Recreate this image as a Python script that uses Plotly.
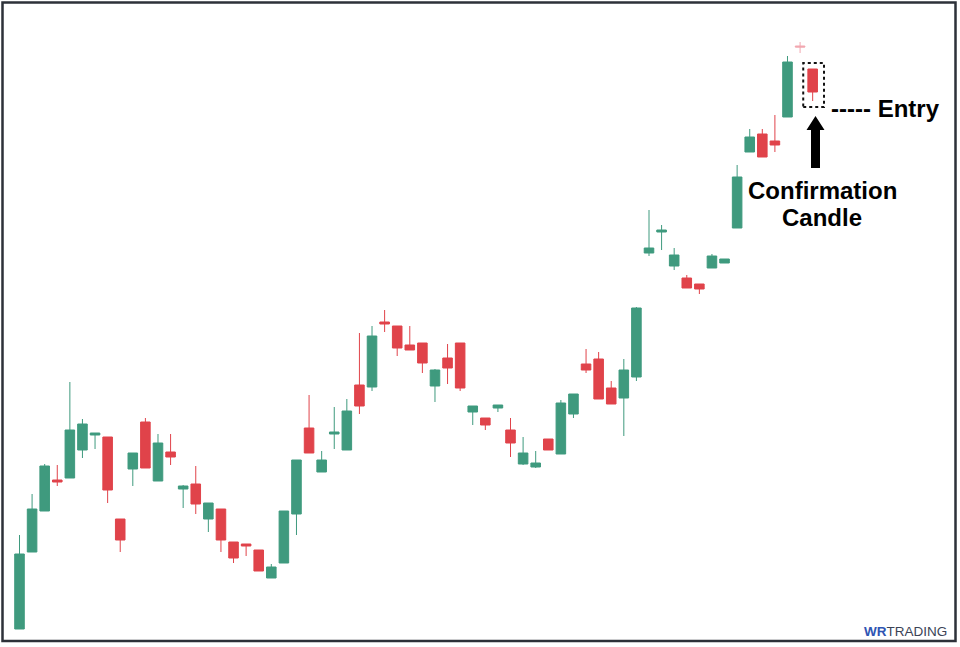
import plotly.graph_objects as go

# Candle data (index-based x), prices
opens = [77.1, 84.8, 88.9, 92.0, 92.2, 95.0, 96.5, 96.3, 88.1, 93.1,
         97.8, 91.9, 94.8, 91.1, 91.6, 88.1, 89.1, 85.8, 85.6, 85.0,
         82.2, 83.7, 88.6, 97.2, 92.8, 96.6, 95.0, 101.5, 101.3, 107.8,
         107.4, 105.5, 105.7, 101.4, 104.2, 105.7, 98.8, 98.2, 99.2, 97.0,
         93.6, 93.3, 96.1, 94.6, 98.6, 103.6, 104.1, 101.2, 100.2, 102.3,
         114.7, 116.8, 113.4, 112.2, 111.6, 113.2, 113.7, 117.2, 124.8, 126.6,
         125.9, 128.3, 135.4, 133.1]
highs = [86.5, 90.6, 93.6, 93.5, 101.8, 98.1, 96.7, 96.3, 88.1, 94.7,
         98.2, 96.6, 96.6, 91.5, 93.4, 89.7, 89.1, 85.8, 85.6, 85.0,
         83.6, 88.9, 94.0, 100.5, 94.9, 99.3, 100.1, 106.7, 107.4, 109.0,
         107.4, 107.4, 105.7, 103.1, 105.6, 105.7, 99.4, 98.2, 99.5, 98.2,
         96.3, 94.9, 96.1, 100.0, 100.6, 105.1, 104.8, 101.9, 104.1, 109.3,
         119.0, 117.5, 115.2, 112.5, 111.6, 114.6, 114.1, 123.5, 127.1, 127.1,
         128.5, 134.4, 135.8, 133.1]
lows = [77.1, 84.8, 88.9, 91.4, 92.2, 94.2, 95.1, 89.7, 84.8, 91.4,
        93.2, 91.9, 93.5, 89.2, 88.6, 86.8, 84.8, 83.7, 84.4, 82.9,
        82.2, 83.7, 86.5, 94.7, 92.8, 95.1, 95.0, 98.6, 100.9, 106.8,
        104.4, 105.0, 102.7, 99.8, 101.6, 100.9, 97.5, 97.0, 98.8, 94.3,
        93.5, 93.2, 95.0, 94.6, 98.2, 102.7, 100.1, 99.6, 96.4, 101.9,
        114.4, 115.0, 113.0, 111.2, 110.6, 113.2, 113.7, 117.2, 124.8, 124.3,
        124.8, 128.3, 134.7, 129.9]
closes = [84.6, 89.1, 93.4, 91.8, 97.0, 97.6, 96.7, 91.0, 86.0, 94.7,
          93.2, 95.7, 94.3, 91.4, 89.6, 89.7, 86.0, 84.2, 85.4, 82.9,
          83.3, 88.9, 94.0, 94.7, 94.0, 96.8, 98.9, 99.4, 106.4, 107.6,
          105.2, 105.0, 103.7, 103.0, 103.2, 101.2, 99.4, 97.5, 99.5, 95.7,
          94.7, 93.7, 95.0, 99.7, 100.6, 103.0, 100.1, 99.6, 103.0, 109.2,
          115.2, 117.0, 114.5, 111.2, 111.1, 114.4, 114.1, 122.3, 126.3, 124.3,
          125.5, 133.8, 135.3, 130.8]

faded_idx = [62]  # the pale "+" candle
x_all = list(range(len(opens)))
main_idx = [i for i in x_all if i not in faded_idx]

GREEN = "#3f9a7e"
RED = "#e0434a"
PINK = "#f2a7b0"

fig = go.Figure()
fig.add_trace(go.Candlestick(
    x=[x_all[i] for i in main_idx],
    open=[opens[i] for i in main_idx],
    high=[highs[i] for i in main_idx],
    low=[lows[i] for i in main_idx],
    close=[closes[i] for i in main_idx],
    increasing=dict(line=dict(color=GREEN, width=1), fillcolor=GREEN),
    decreasing=dict(line=dict(color=RED, width=1), fillcolor=RED),
    whiskerwidth=0, hoverinfo="skip", showlegend=False,
))
fig.add_trace(go.Candlestick(
    x=[x_all[i] for i in faded_idx],
    open=[opens[i] for i in faded_idx],
    high=[highs[i] for i in faded_idx],
    low=[lows[i] for i in faded_idx],
    close=[closes[i] for i in faded_idx],
    increasing=dict(line=dict(color=PINK, width=1), fillcolor=PINK),
    decreasing=dict(line=dict(color=PINK, width=1), fillcolor=PINK),
    whiskerwidth=0, hoverinfo="skip", showlegend=False,
))

W, H = 960, 647
X0, DX = 19.5, 12.59          # pixel of first candle and candle spacing
def px(xpix):
    return xpix / W
def py(ypix):
    return 1 - ypix / H

# Border frame
fig.add_shape(type="rect", xref="paper", yref="paper",
              x0=px(2.5), x1=px(955.5), y0=py(641), y1=py(2.5),
              line=dict(color="#2d3139", width=2.5), layer="above")

# Dotted box around confirmation candle (index 63)
fig.add_shape(type="rect", xref="x", yref="y",
              x0=63 - 0.75, x1=63 + 0.9, y0=129.3, y1=133.7,
              line=dict(color="#111111", width=2, dash="dot"))

# Up arrow
ax = 815.5
arrow_path = (f"M {px(ax-4.5)} {py(168)} L {px(ax+4.5)} {py(168)} L {px(ax+4.5)} {py(130)} "
              f"L {px(ax+9)} {py(130)} L {px(ax)} {py(116)} L {px(ax-9)} {py(130)} "
              f"L {px(ax-4.5)} {py(130)} Z")
fig.add_shape(type="path", xref="paper", yref="paper", path=arrow_path,
              fillcolor="#000000", line=dict(color="#000000", width=0))

TF = dict(family="Liberation Sans, Arial, sans-serif", size=24, color="#000000")
fig.add_annotation(xref="paper", yref="paper", x=px(829), y=py(108),
                   xanchor="left", yanchor="middle", showarrow=False,
                   text="<b>----- Entry</b>", font=TF)
fig.add_annotation(xref="paper", yref="paper", x=px(822), y=py(190),
                   xanchor="center", yanchor="middle", showarrow=False,
                   text="<b>Confirmation</b>", font=TF)
fig.add_annotation(xref="paper", yref="paper", x=px(822), y=py(218),
                   xanchor="center", yanchor="middle", showarrow=False,
                   text="<b>Candle</b>", font=TF)

# Logo
fig.add_annotation(xref="paper", yref="paper", x=px(949), y=py(631),
                   xanchor="right", yanchor="middle", showarrow=False,
                   text="<b><span style='color:#2f55b3'>WR</span></b><span style='color:#3b4356'>TRADING</span>",
                   font=dict(family="Liberation Sans, Arial, sans-serif", size=13.5))

fig.update_layout(
    width=W, height=H,
    margin=dict(l=0, r=0, t=0, b=0),
    paper_bgcolor="white", plot_bgcolor="white",
    showlegend=False,
    boxgap=0.24, boxgroupgap=0,
    xaxis=dict(range=[-X0 / DX, (W - X0) / DX], visible=False,
               rangeslider=dict(visible=False), fixedrange=True),
    yaxis=dict(range=[140 - H / 10, 140], visible=False, fixedrange=True),
)

fig.write_html("out.html",
               config={"displayModeBar": False, "staticPlot": True},
               post_script="document.body.style.margin='0';document.body.style.overflow='hidden';")
